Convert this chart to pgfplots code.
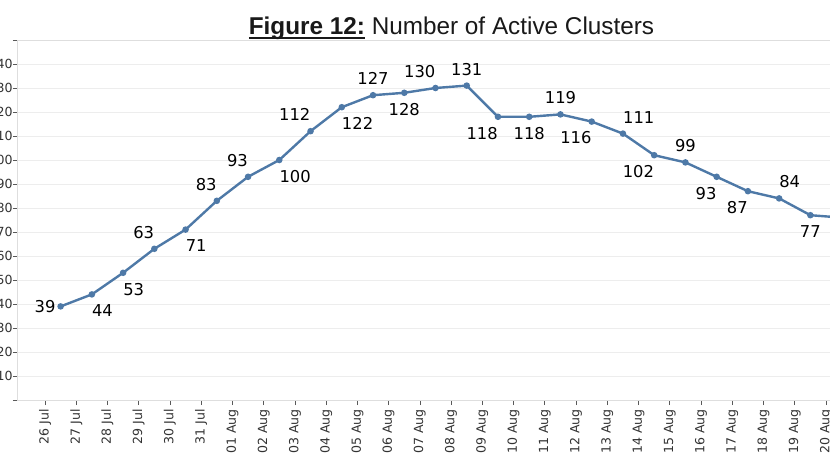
\documentclass[border=0pt]{standalone}
\usepackage{pgfplots}
\pgfplotsset{compat=1.18}
\usepackage{fontspec}
\setmainfont{DejaVu Sans}
\newfontfamily\titlefont{Liberation Sans}
\definecolor{linec}{HTML}{4E79A7}
\definecolor{gridc}{HTML}{EDEDED}
\definecolor{ticklab}{HTML}{333333}
\newcommand\thickul[1]{\setbox0\hbox{#1}\rlap{\rule[-4bp]{\wd0}{1.9bp}}\box0\relax}
\pgfplotsset{
  lab/.style={draw=none, mark=none, forget plot, nodes near coords, point meta=explicit symbolic,
    every node near coord/.append style={inner sep=0pt, font=\fontsize{16.4}{18}\selectfont, text=black, #1}},
}

\begin{document}
\begin{tikzpicture}
\begin{scope}
\clip (-45bp,-68bp) rectangle (785bp,400bp);
\begin{axis}[
  at={(0,0)}, anchor=origin,
  x=31.24bp, y=2.4bp,
  xmin=-0.9, xmax=26.6, ymin=0, ymax=150,
  clip=false,
  axis line style={draw=black!13, line width=0.6bp},
  xtick pos=bottom, ytick pos=left,
  xtick={0,...,25},
  xticklabels={26 Jul,27 Jul,28 Jul,29 Jul,30 Jul,31 Jul,01 Aug,02 Aug,03 Aug,04 Aug,05 Aug,06 Aug,07 Aug,08 Aug,09 Aug,10 Aug,11 Aug,12 Aug,13 Aug,14 Aug,15 Aug,16 Aug,17 Aug,18 Aug,19 Aug,20 Aug},
  ytick={0,10,...,150},
  yticklabels={,10,20,30,40,50,60,70,80,90,100,110,120,130,140,},
  ymajorgrids,
  grid style={draw=gridc, line width=0.6bp},
  tick align=outside,
  major tick length=4bp,
  tick style={draw=black!65, line width=0.7bp},
  xtick style={yshift=-1bp},
  xticklabel style={yshift=-5bp, rotate=90, anchor=east, inner sep=0pt, font=\fontsize{12.6}{14}\selectfont, text=ticklab},
  yticklabel style={anchor=east, inner sep=0pt, font=\fontsize{12.6}{14}\selectfont, text=ticklab},
]
\addplot[color=linec, line width=2.4bp, mark=*, mark size=2bp, mark options={solid, fill=linec}]
  table {
x y
0.5 39
1.5 44
2.5 53
3.5 63
4.5 71
5.5 83
6.5 93
7.5 100
8.5 112
9.5 122
10.5 127
11.5 128
12.5 130
13.5 131
14.5 118
15.5 118
16.5 119
17.5 116
18.5 111
19.5 102
20.5 99
21.5 93
22.5 87
23.5 84
24.5 77
25.5 76
};
% data labels, grouped by their position
\addplot[lab={anchor=east, xshift=-5bp}] coordinates {(0.5,39)[39]};
\addplot[lab={anchor=north west, yshift=-10bp}] coordinates {(1.5,44)[44] (2.5,53)[53] (4.5,71)[71] (7.5,100)[100] (9.5,122)[122]};
\addplot[lab={anchor=south east, yshift=10bp}] coordinates {(3.5,63)[63] (5.5,83)[83] (6.5,93)[93] (8.5,112)[112] (12.5,130)[130]};
\addplot[lab={anchor=south, yshift=10bp}] coordinates {(10.5,127)[127] (13.5,131)[131] (16.5,119)[119] (20.5,99)[99]};
\addplot[lab={anchor=north, yshift=-10bp}] coordinates {(11.5,128)[128] (15.5,118)[118] (24.5,77)[77] (25.5,76)[76]};
\addplot[lab={anchor=north east, yshift=-10bp}] coordinates {(14.5,118)[118] (17.5,116)[116] (19.5,102)[102] (21.5,93)[93] (22.5,87)[87]};
\addplot[lab={anchor=south west, yshift=10bp}] coordinates {(18.5,111)[111] (23.5,84)[84]};
\end{axis}
\node[anchor=base, font=\titlefont\fontsize{24.4}{28}\selectfont, text=black!90] at (406.5bp,365bp) {\thickul{\textbf{Figure 12:}} Number of Active Clusters};
\end{scope}
\pgfresetboundingbox
\path[use as bounding box] (-45bp,-68bp) rectangle (785bp,400bp);
\end{tikzpicture}
\end{document}
